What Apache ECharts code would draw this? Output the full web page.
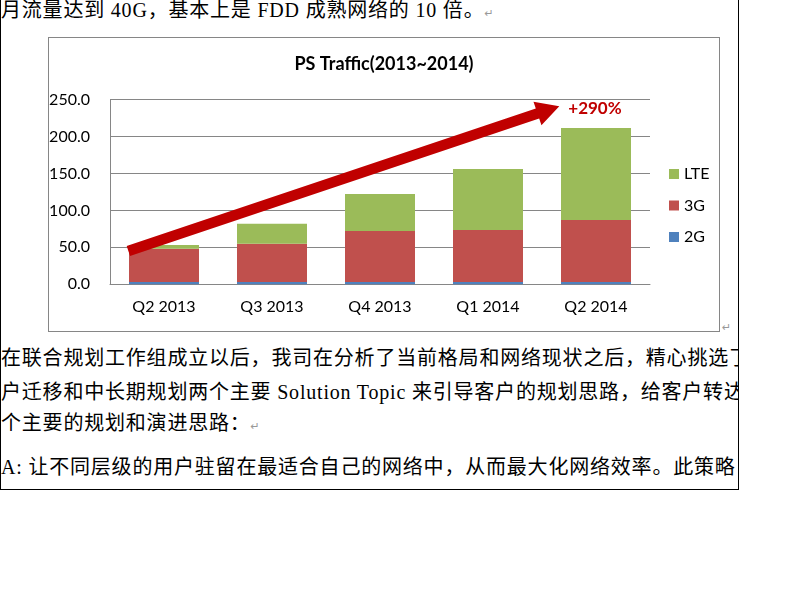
<!DOCTYPE html>
<html><head><meta charset="utf-8">
<script src="https://cdn.jsdelivr.net/npm/echarts@6/dist/echarts.min.js"></script>
<style>
html,body{margin:0;padding:0;background:#fff;}
#page{position:relative;width:800px;height:600px;overflow:hidden;background:#fff;}
#doc{position:absolute;left:0;top:0;width:737px;height:489px;border-left:1px solid #000;border-right:1px solid #000;border-bottom:1px solid #000;overflow:hidden;}
.ln{position:absolute;left:0;white-space:nowrap;font-family:"Liberation Serif","Noto Sans CJK SC",serif;font-size:20px;line-height:24px;color:#000;letter-spacing:0.8px;}
.pm{color:#999;font-family:"DejaVu Sans",sans-serif;font-size:11px;letter-spacing:0;}
#frame{position:absolute;left:48px;top:37px;width:670px;height:293px;border:1px solid #868686;}
#chart{position:absolute;left:0;top:0;width:800px;height:600px;}
</style>
</head><body>
<div id="page">
  <div id="doc">
    <div class="ln" style="top:-2px">月流量达到 40G，基本上是 FDD 成熟网络的 10 倍。<span class="pm">↵</span></div>
    <div class="ln" style="top:346px">在联合规划工作组成立以后，我司在分析了当前格局和网络现状之后，精心挑选了</div>
    <div class="ln" style="top:380px">户迁移和中长期规划两个主要 Solution Topic 来引导客户的规划思路，给客户转达</div>
    <div class="ln" style="top:411px">个主要的规划和演进思路：<span class="pm">↵</span></div>
    <div class="ln" style="top:455px">A: 让不同层级的用户驻留在最适合自己的网络中，从而最大化网络效率。此策略</div>
    <div class="ln pm" style="top:316px;left:721px;font-size:11px;">↵</div>
  </div>
  <div id="frame"></div>
  <div id="chart"></div>
</div>
<script>
const categories = ['Q2 2013', 'Q3 2013', 'Q4 2013', 'Q1 2014', 'Q2 2014'];
const seriesNames = ['2G', '3G', 'LTE'];
const values2G = [3, 3, 3, 3, 3];
const values3G = [45, 52, 69, 70.5, 84];
const valuesLTE = [5, 27, 50, 82.5, 124.5];
const yTicks = [0, 50, 100, 150, 200, 250];
const chartTitle = 'PS Traffic(2013~2014)';
const arrowFrom = [-0.33, 45];   // category-index, value
const arrowTo = [3.66, 241];
const arrowLabel = '+290%';

const colors = {'2G': '#4F81BD', '3G': '#C0504D', 'LTE': '#9BBB59'};
const seriesData = {'2G': values2G, '3G': values3G, 'LTE': valuesLTE};
const FONT = 'Lato, "Open Sans", sans-serif';
const GRAY = '#868686';

const chart = echarts.init(document.getElementById('chart'), null, {renderer: 'canvas'});

const barSeries = seriesNames.map(n => ({
  name: n, type: 'bar', stack: 'total', xAxisIndex: 0, yAxisIndex: 0,
  barWidth: 70, data: seriesData[n], itemStyle: {color: colors[n]},
  emphasis: {disabled: true}, animation: false
}));

const option = {
  backgroundColor: 'transparent',
  animation: false,
  graphic: [{
    type: 'text',
    style: {text: chartTitle, x: 384, y: 64, fill: '#000', font: 'bold 18px ' + FONT, align: 'center', verticalAlign: 'middle'}
  }],
  legend: {
    data: ['LTE', '3G', '2G'], orient: 'vertical', left: 664, top: 161,
    itemWidth: 10, itemHeight: 10, itemGap: 15.5, icon: 'rect',
    textStyle: {fontSize: 16, lineHeight: 16, color: '#000', fontFamily: FONT}
  },
  grid: {left: 110, top: 99.5, width: 540, height: 184.8, containLabel: false},
  xAxis: [{
    type: 'category', data: categories, gridIndex: 0,
    axisLine: {lineStyle: {color: GRAY, width: 1}}, axisTick: {show: false},
    axisLabel: {fontSize: 16, color: '#000', margin: 15, fontFamily: FONT}
  }, {
    type: 'value', gridIndex: 0, min: -0.5, max: categories.length - 0.5, show: false
  }],
  yAxis: {
    type: 'value', min: yTicks[0], max: yTicks[yTicks.length - 1], interval: yTicks[1] - yTicks[0],
    axisLine: {show: true, onZero: false, lineStyle: {color: GRAY, width: 1}}, axisTick: {show: false},
    splitLine: {lineStyle: {color: GRAY, width: 1}},
    axisLabel: {formatter: v => v.toFixed(1), fontSize: 16, color: '#000', margin: 20, fontFamily: FONT}
  },
  series: barSeries.concat([{
    type: 'custom', xAxisIndex: 1, yAxisIndex: 0, z: 10, silent: true,
    data: [[arrowFrom[0], arrowFrom[1], arrowTo[0], arrowTo[1]]],
    renderItem: function (params, api) {
      const p0 = api.coord([api.value(0), api.value(1)]);
      const p1 = api.coord([api.value(2), api.value(3)]);
      const dx = p1[0] - p0[0], dy = p1[1] - p0[1], L = Math.hypot(dx, dy);
      const ux = dx / L, uy = dy / L, nx = -uy, ny = ux;
      const w = 5.3, hw = 12.5, hl = 23;
      const bx = p1[0] - ux * hl, by = p1[1] - uy * hl;
      const pts = [
        [p0[0] + nx * w, p0[1] + ny * w], [bx + nx * w, by + ny * w], [bx + nx * hw, by + ny * hw],
        p1, [bx - nx * hw, by - ny * hw], [bx - nx * w, by - ny * w], [p0[0] - nx * w, p0[1] - ny * w]
      ];
      return {type: 'group', children: [
        {type: 'polygon', shape: {points: pts}, style: {fill: '#C00000'}},
        {type: 'text', style: {text: arrowLabel, x: p1[0] + 9, y: p1[1] + 2, verticalAlign: 'middle', align: 'left', fill: '#C00000', font: 'bold 17px ' + FONT}}
      ]};
    }
  }])
};
chart.setOption(option);
</script>
</body></html>
